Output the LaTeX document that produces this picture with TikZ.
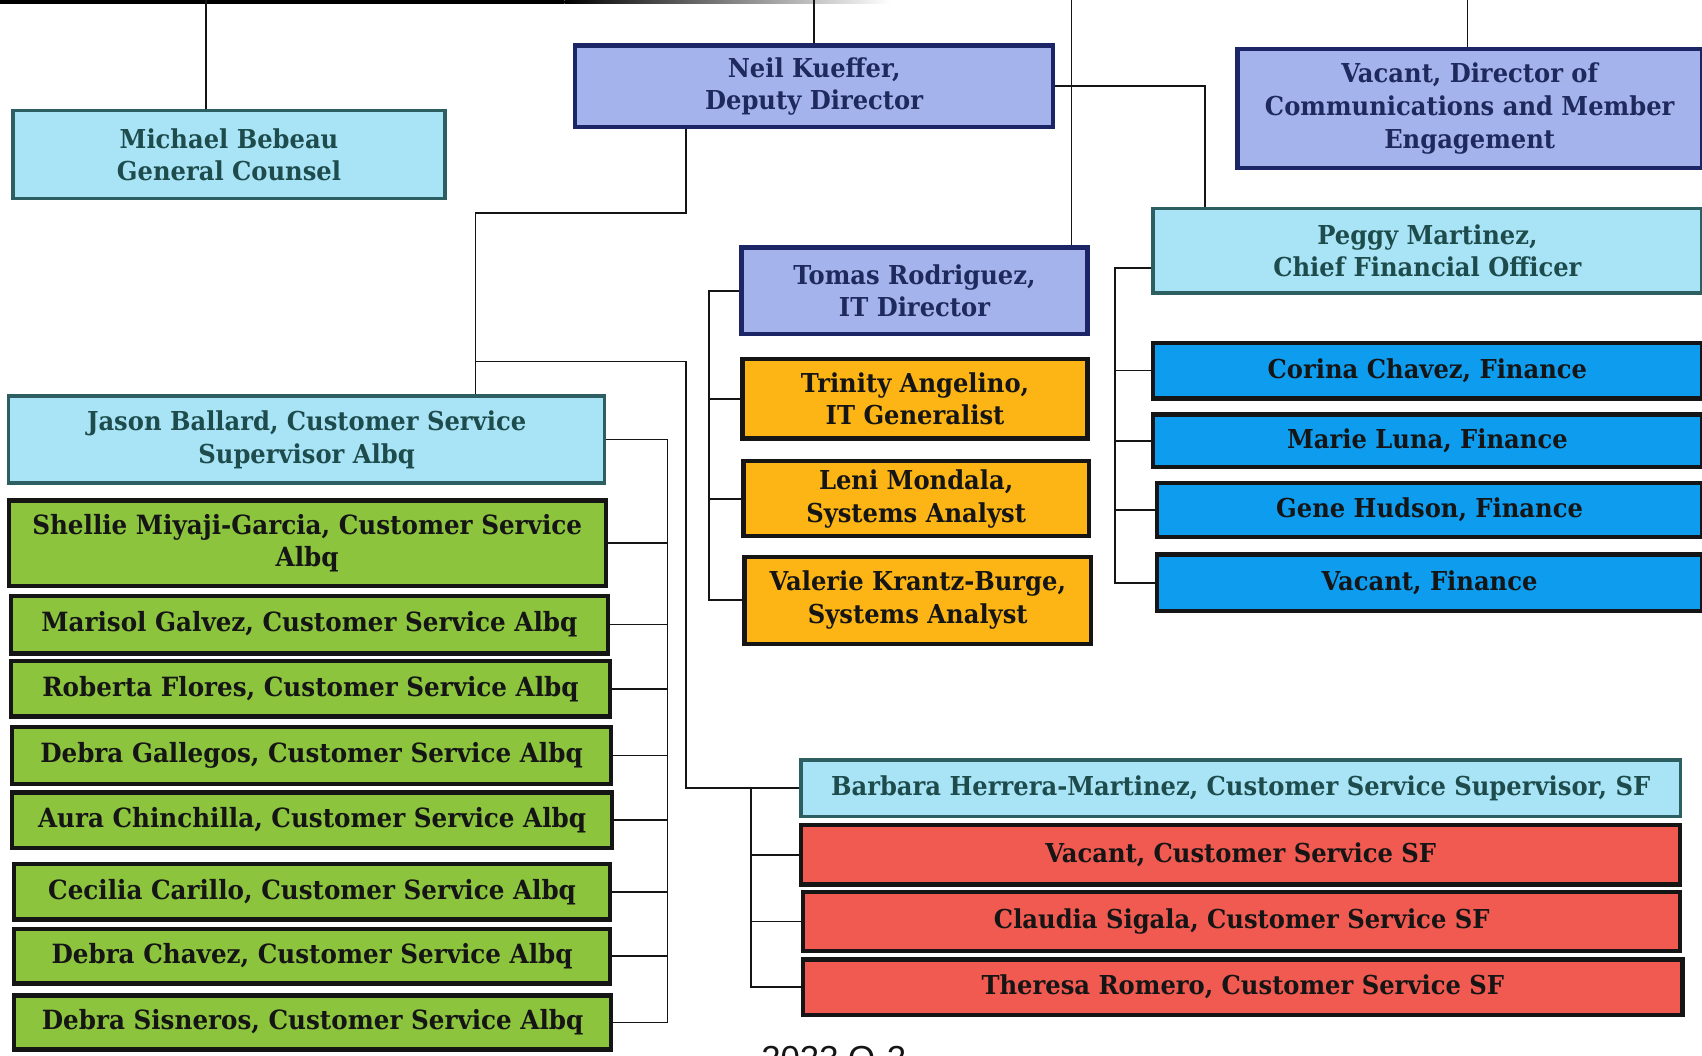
\documentclass[tikz,border=0pt]{standalone}
\usepackage{fontspec}
\newfontfamily\bk{DejaVu Serif}[FakeStretch=0.93]
\newfontfamily\ar{Liberation Sans}
\definecolor{peri}{HTML}{A5B3EC}
\definecolor{navyb}{HTML}{1C2566}
\definecolor{navyt}{HTML}{1E2A5E}
\definecolor{cyanf}{HTML}{A8E3F6}
\definecolor{tealb}{HTML}{2D5E62}
\definecolor{tealt}{HTML}{1E4C4C}
\definecolor{orangef}{HTML}{FCB515}
\definecolor{bluef}{HTML}{0E9CEF}
\definecolor{greenf}{HTML}{8CC43E}
\definecolor{redf}{HTML}{F05A50}
\definecolor{blk}{HTML}{151515}
\tikzset{
  x=0.5pt, y=-0.5pt,
  box/.style={draw, line width=2pt, inner sep=0pt, align=center,
    font=\bk\bfseries\fontsize{12}{15}\selectfont},
  navybox/.style={box, fill=peri, draw=navyb, text=navyt},
  cyanbox/.style={box, fill=cyanf, draw=tealb, line width=1.6pt, text=tealt},
  orangebox/.style={box, fill=orangef, draw=blk, text=blk},
  bluebox/.style={box, fill=bluef, draw=blk, text=blk},
  greenbox/.style={box, fill=greenf, draw=blk, text=blk, font=\bk\bfseries\fontsize{12.2}{15}\selectfont},
  redbox/.style={box, fill=redf, draw=blk, text=blk},
  conn/.style={draw=blk, line width=0.75pt},
}
\newcommand\bx[7]{\node[#2, minimum width={(#5-#3)*0.5pt}, minimum height={(#6-#4)*0.5pt}] (#1) at ({(#3+#5)/2},{(#4+#6)/2}) {#7};}
\begin{document}
\begin{tikzpicture}
\useasboundingbox (0,0) rectangle (1568,972);
\fill[white] (0,0) rectangle (1568,972);
% top edge
\fill[black] (0,0) rectangle (520,4);
\shade[left color=black, right color=white] (520,0) rectangle (820,3);

% boxes
\bx{Neil}{navybox}{530}{42}{970}{117}{Neil Kueffer,\\Deputy Director}
\bx{VacDir}{navybox}{1140}{45}{1568}{155}{Vacant, Director of\\Communications and Member\\Engagement}
\bx{Michael}{cyanbox}{12}{102}{410}{183}{Michael Bebeau\\General Counsel}
\bx{Peggy}{cyanbox}{1062}{192}{1568}{270}{Peggy Martinez,\\Chief Financial Officer}
\bx{Tomas}{navybox}{683}{228}{1002}{308}{Tomas Rodriguez,\\IT Director}
\bx{Trinity}{orangebox}{684}{331}{1002}{404}{Trinity Angelino,\\IT Generalist}
\bx{Leni}{orangebox}{685}{425}{1003}{494}{Leni Mondala,\\Systems Analyst}
\bx{Valerie}{orangebox}{686}{513}{1005}{593}{Valerie Krantz-Burge,\\Systems Analyst}
\bx{Corina}{bluebox}{1062}{316}{1568}{367}{Corina Chavez, Finance}
\bx{Marie}{bluebox}{1062}{382}{1568}{430}{Marie Luna, Finance}
\bx{Gene}{bluebox}{1066}{445}{1568}{495}{Gene Hudson, Finance}
\bx{VacFin}{bluebox}{1066}{511}{1568}{563}{Vacant, Finance}
\bx{Jason}{cyanbox}{8}{365}{557}{445}{Jason Ballard, Customer Service\\Supervisor Albq}
\bx{Shellie}{greenbox}{8}{461}{558}{540}{Shellie Miyaji-Garcia, Customer Service\\Albq}
\bx{Marisol}{greenbox}{10}{549}{560}{602}{Marisol Galvez, Customer Service Albq}
\bx{Roberta}{greenbox}{10}{609}{562}{660}{Roberta Flores, Customer Service Albq}
\bx{Gallegos}{greenbox}{11}{670}{563}{722}{Debra Gallegos, Customer Service Albq}
\bx{Aura}{greenbox}{11}{730}{564}{781}{Aura Chinchilla, Customer Service Albq}
\bx{Cecilia}{greenbox}{13}{796}{562}{847}{Cecilia Carillo, Customer Service Albq}
\bx{Chavez}{greenbox}{13}{856}{562}{906}{Debra Chavez, Customer Service Albq}
\bx{Sisneros}{greenbox}{13}{917}{563}{967}{Debra Sisneros, Customer Service Albq}
\bx{Barbara}{cyanbox}{738}{700}{1548}{752}{Barbara Herrera-Martinez, Customer Service Supervisor, SF}
\bx{VacSF}{redbox}{738}{760}{1548}{815}{Vacant, Customer Service SF}
\bx{Claudia}{redbox}{740}{822}{1548}{876}{Claudia Sigala, Customer Service SF}
\bx{Theresa}{redbox}{740}{884}{1550}{935}{Theresa Romero, Customer Service SF}

% connectors from top
\coordinate (t1) at (190,0);
\coordinate (t2) at (750,0);
\coordinate (t3) at (987,0);
\coordinate (t4) at (1352,0);
\draw[conn] (t1) -- (t1 |- Michael.north);
\draw[conn] (t2) -- (t2 |- Neil.north);
\draw[conn] (t3) -- (t3 |- Tomas.north);
\draw[conn] (t4) -- (t4 |- VacDir.north);

% Neil -> Peggy
\coordinate (p1) at (1110,0);
\draw[conn] (Neil.east) -- (Neil.east -| p1) -- (p1 |- Peggy.north);

% Neil -> Jason
\coordinate (n1) at (632,196);
\coordinate (n2) at (438,196);
\draw[conn] (Neil.south -| n1) -- (n1) -- (n2) -- (n2 |- Jason.north);

% -> Barbara
\coordinate (s1) at (438,333);
\coordinate (s2) at (632,333);
\draw[conn] (s1) -- (s2) -- (s2 |- Barbara.west) -- (Barbara.west);

% Barbara bus
\coordinate (bb) at (692,0);
\draw[conn] (Barbara.west -| bb) -- (Theresa.west -| bb) -- (Theresa.west);
\foreach \n in {VacSF,Claudia} \draw[conn] (\n.west -| bb) -- (\n.west);

% Tomas bus
\coordinate (tb) at (653,0);
\draw[conn] (Tomas.west) -- (Tomas.west -| tb) -- (Valerie.west -| tb) -- (Valerie.west);
\foreach \n in {Trinity,Leni} \draw[conn] (\n.west -| tb) -- (\n.west);

% Peggy bus
\coordinate (pb) at (1027,0);
\draw[conn] ([yshift=-8pt]Peggy.west) -- ([yshift=-8pt]Peggy.west -| pb) -- (VacFin.west -| pb) -- (VacFin.west);
\foreach \n in {Corina,Marie,Gene} \draw[conn] (\n.west -| pb) -- (\n.west);

% Jason bus
\coordinate (jb) at (615,0);
\draw[conn] (Jason.east) -- (Jason.east -| jb) -- (Sisneros.east -| jb) -- (Sisneros.east);
\foreach \n in {Shellie,Marisol,Roberta,Gallegos,Aura,Cecilia,Chavez} \draw[conn] (\n.east -| jb) -- (\n.east);

% footer (cut off at the page edge, as in the scan)
\begin{scope}
\clip (0,0) rectangle (1568,972);
\node[anchor=base west, inner sep=0pt, font=\ar\fontsize{16}{16}\selectfont, text=blk] (foot) at (701,986) {2023 O-2};
\end{scope}
\end{tikzpicture}
\end{document}
